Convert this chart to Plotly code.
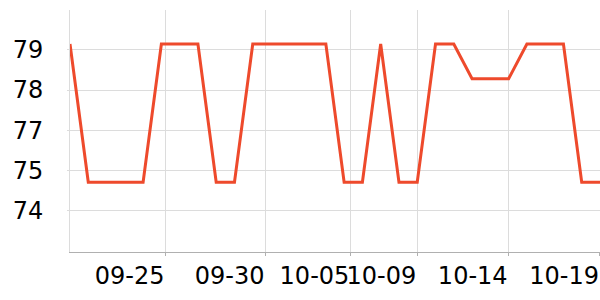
import plotly.graph_objects as go
import pandas as pd

# ---- data ----
x_dates = pd.date_range("2023-09-20", "2023-10-19", freq="D").strftime("%Y-%m-%d").tolist()
y_values = [
    78.86, 75.08, 75.08, 75.08, 75.08, 78.86, 78.86, 78.86, 75.08, 75.08,
    78.86, 78.86, 78.86, 78.86, 78.86, 75.08, 75.08, 78.86, 75.08, 75.08,
    78.86, 78.86, 77.91, 77.91, 77.91, 78.86, 78.86, 78.86, 75.08, 75.08,
]
x_tick_vals = ["2023-09-25 05:21", "2023-09-30 16:44", "2023-10-05 08:10",
               "2023-10-09", "2023-10-14", "2023-10-19"]
x_tick_text = ["09-25", "09-30", "10-05", "10-09", "10-14", "10-19"]
y_tick_vals = [74.3, 75.4, 76.5, 77.6, 78.7]
y_tick_text = ["74", "75", "77", "78", "79"]

fig = go.Figure()
fig.add_trace(go.Scatter(
    x=x_dates, y=y_values, mode="lines",
    line=dict(color="#ee4a2c", width=3),
    hoverinfo="skip", showlegend=False,
))

fig.update_layout(
    width=600, height=300,
    margin=dict(l=70, r=0, t=10, b=48),
    paper_bgcolor="white", plot_bgcolor="white",
    font=dict(family="DejaVu Sans", size=24, color="#000"),
    xaxis=dict(
        type="date",
        range=["2023-09-20", "2023-10-19 00:01"],
        tickvals=x_tick_vals, ticktext=x_tick_text,
        tickangle=0,
        ticklabelposition="outside left",
        ticklabelstandoff=2,
        showgrid=True, gridcolor="#dcdcdc", gridwidth=1,
        showline=True, linecolor="#b0b0b0", linewidth=1,
        ticks="outside", ticklen=3, tickcolor="#b0b0b0",
        zeroline=False,
    ),
    yaxis=dict(
        range=[73.17, 79.79],
        tickvals=y_tick_vals, ticktext=y_tick_text,
        showgrid=True, gridcolor="#dcdcdc", gridwidth=1,
        showline=True, linecolor="#dcdcdc", linewidth=1,
        ticks="outside", ticklen=2, tickcolor="#dcdcdc",
        ticklabelstandoff=19,
        zeroline=False,
    ),
)

fig.write_html("out.html")
